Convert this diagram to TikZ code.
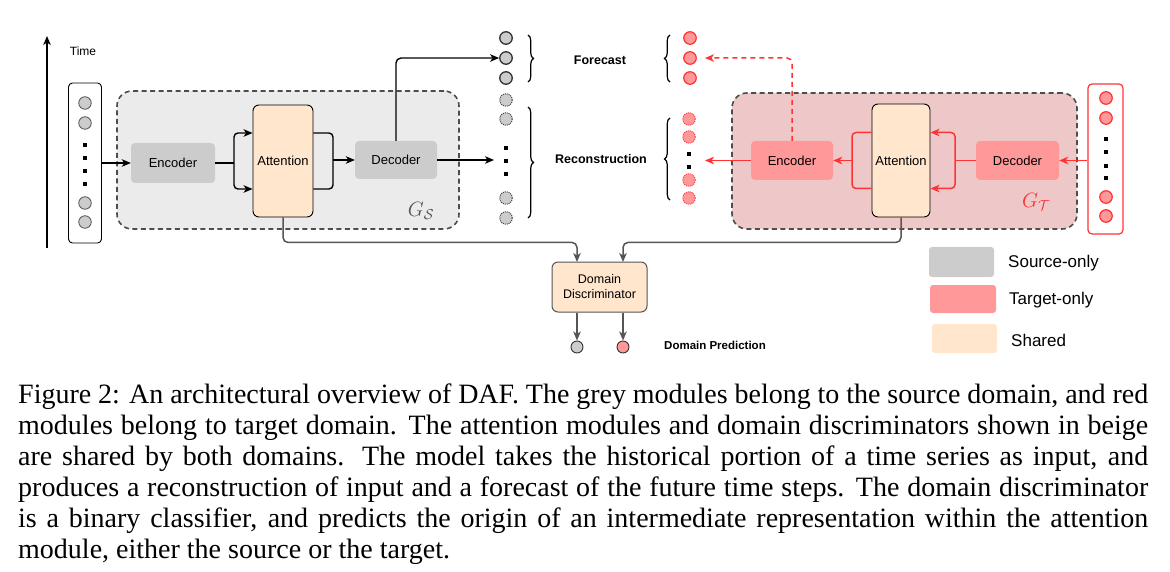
\documentclass[tikz,border=0pt]{standalone}
\usepackage{fontspec}
\setmainfont{Liberation Sans}
\newfontfamily\capfont{Liberation Serif}
\usetikzlibrary{arrows.meta,calc,decorations.pathreplacing}
\definecolor{grayfill}{HTML}{CCCCCC}
\definecolor{gsbg}{HTML}{EBEBEB}
\definecolor{dashcol}{HTML}{4D4D4D}
\definecolor{beige}{HTML}{FFE6CC}
\definecolor{redfill}{HTML}{FF9999}
\definecolor{redline}{HTML}{FF3333}
\definecolor{pinkbg}{HTML}{EEC8C8}
\definecolor{conn}{HTML}{555555}
\tikzset{
  modtext/.style={font=\fontsize{13}{15}\selectfont, text=black, inner sep=0pt},
  srcmod/.style={modtext, fill=grayfill, rounded corners=4pt, draw=none},
  tgtmod/.style={modtext, fill=redfill, rounded corners=4pt, draw=none},
  attmod/.style={modtext, fill=beige, draw=black, line width=0.9pt, rounded corners=6pt},
  gframe/.style={draw=dashcol, line width=1.6pt, dash pattern=on 5pt off 3.5pt, rounded corners=15pt, inner sep=0pt},
  colbox/.style={fill=white, rounded corners=4pt, inner sep=0pt},
  ccirc/.style={circle, inner sep=0pt, minimum size=12.5pt},
  cgray/.style={ccirc, fill=grayfill, draw=conn, line width=0.8pt},
  cgraysolid/.style={ccirc, fill=grayfill, draw=black!80, line width=1.3pt},
  cgraydot/.style={ccirc, fill=grayfill, draw=black!80, line width=0.9pt, dash pattern=on 1pt off 1pt},
  cred/.style={ccirc, fill=redfill, draw=redline, line width=1.2pt},
  creddot/.style={ccirc, fill=redfill, draw=redline, line width=0.9pt, dash pattern=on 1pt off 1pt},
  dotsq/.style={fill=black, inner sep=0pt, minimum size=3.2pt},
  blk/.style={draw=black, line width=1.4pt},
  blkarr/.style={blk, -{Stealth[length=9pt,width=7.5pt,inset=2.5pt]}},
  rd/.style={draw=redline, line width=1.5pt},
  rdarr/.style={rd, -{Stealth[length=9pt,width=7.5pt,inset=2.5pt]}},
  grarr/.style={draw=conn, line width=1.5pt, -{Stealth[length=9pt,width=7.5pt,inset=2.5pt]}},
  bold13/.style={font=\bfseries\fontsize{12.5}{14}\selectfont, inner sep=0pt},
  legtext/.style={font=\fontsize{17}{19}\selectfont, anchor=west, inner sep=0pt},
  legbox/.style={rounded corners=3pt, inner sep=0pt, draw=none},
  bracestyle/.style={draw=black, line width=1.2pt, decorate, decoration={brace, amplitude=5.5pt}},
}
\begin{document}
\begin{tikzpicture}[x=1pt,y=-1pt]
\useasboundingbox (0,0) rectangle (1170,572);

% ---------------- source side ----------------
\node[gframe, fill=gsbg, minimum width=342pt, minimum height=138pt] (GS) at (288,160) {};
\node[text=conn, inner sep=0pt, font=\fontsize{20}{22}\selectfont] (GSl) at (421,211) {$G_{\mathcal{S}}$};

% time axis
\coordinate (tb) at (47,248);
\coordinate (tt) at (47,36);
\draw[blkarr] (tb) -- (tt);
\node[inner sep=0pt, font=\fontsize{12}{14}\selectfont] (time) at (83,51) {Time};

% input column (source)
\node[colbox, draw=black, line width=0.9pt, minimum width=33pt, minimum height=160pt] (inS) at (85,163) {};
\node[cgray] (i1) at (85,103) {};
\node[cgray] (i2) at (85,123) {};
\node[dotsq] (id1) at (85,145) {};
\node[dotsq] (id2) at (85,158) {};
\node[dotsq] (id3) at (85,171) {};
\node[dotsq] (id4) at (85,184) {};
\node[cgray] (i3) at (85,203) {};
\node[cgray] (i4) at (85,222) {};

\node[srcmod, minimum width=84pt, minimum height=40pt] (encS) at (173,163) {Encoder};
\node[attmod, minimum width=60pt, minimum height=112pt] (attS) at (283,161) {Attention};
\node[srcmod, minimum width=82pt, minimum height=38pt] (decS) at (396,160) {Decoder};

% outputs (source)
\node[cgraysolid] (fS1) at (506,38) {};
\node[cgraysolid] (fS2) at (506,58) {};
\node[cgraysolid] (fS3) at (506,78) {};
\node[cgraydot] (rS1) at (506,100) {};
\node[cgraydot] (rS2) at (506,119) {};
\node[dotsq] (rd1) at (506,148) {};
\node[dotsq] (rd2) at (506,161) {};
\node[dotsq] (rd3) at (506,174) {};
\node[cgraydot] (rS3) at (506,198) {};
\node[cgraydot] (rS4) at (506,218) {};

\coordinate (bfS1) at (528,35);
\coordinate (bfS2) at (528,82);
\coordinate (brS1) at (528,107);
\coordinate (brS2) at (528,218);
\draw[bracestyle] (bfS1) -- (bfS2);
\draw[bracestyle] (brS1) -- (brS2);

\node[bold13] (fc) at (600,60) {Forecast};
\node[bold13] (rc) at (601,159) {Reconstruction};

% source connectors
\draw[blkarr] (inS.east |- encS) -- (encS.west);
\coordinate (bS) at (234,163);
\draw[blk] (encS.east) -- (bS);
\draw[blkarr, rounded corners=4pt] (bS) |- ($(attS.west)+(0,-28)$);
\draw[blkarr, rounded corners=4pt] (bS) |- ($(attS.west)+(0,28)$);
\coordinate (jS) at (333,160);
\draw[blk, rounded corners=4pt] ($(attS.east)+(0,-28)$) -| (jS) |- ($(attS.east)+(0,28)$);
\draw[blkarr] (jS) -- (decS.west);
\draw[blkarr, rounded corners=5pt] (decS.north) |- (fS2.west);
\coordinate (recS) at (494,160);
\draw[blkarr] (decS.east) -- (recS);

% ---------------- target side ----------------
\node[gframe, fill=pinkbg, minimum width=345pt, minimum height=136pt] (GT) at (904.5,161) {};
\node[text=redline, inner sep=0pt, font=\fontsize{20}{22}\selectfont] (GTl) at (1036,202) {$G_{\mathcal{T}}$};

\node[tgtmod, minimum width=82pt, minimum height=39pt] (encT) at (792,160.5) {Encoder};
\node[attmod, minimum width=58pt, minimum height=113pt] (attT) at (901,160.5) {Attention};
\node[tgtmod, minimum width=83pt, minimum height=39pt] (decT) at (1017.5,160.5) {Decoder};

\node[colbox, draw=redline, line width=1.2pt, minimum width=35pt, minimum height=150pt] (inT) at (1105.5,159) {};
\node[cred] (t1) at (1106,98) {};
\node[cred] (t2) at (1106,118) {};
\node[dotsq] (td1) at (1106,139) {};
\node[dotsq] (td2) at (1106,152) {};
\node[dotsq] (td3) at (1106,166) {};
\node[dotsq] (td4) at (1106,178) {};
\node[cred] (t3) at (1106,197) {};
\node[cred] (t4) at (1106,216) {};

\node[cred] (fT1) at (690,38) {};
\node[cred] (fT2) at (690,58) {};
\node[cred] (fT3) at (690,78) {};
\node[creddot] (rT1) at (689,119) {};
\node[creddot] (rT2) at (689,137) {};
\node[dotsq] (rtd1) at (689,154) {};
\node[dotsq] (rtd2) at (689,167) {};
\node[creddot] (rT3) at (689,180) {};
\node[creddot] (rT4) at (689,198) {};

\coordinate (bfT1) at (670,82);
\coordinate (bfT2) at (670,35);
\coordinate (brT1) at (670,200);
\coordinate (brT2) at (670,118);
\draw[bracestyle] (bfT1) -- (bfT2);
\draw[bracestyle] (brT1) -- (brT2);

% target connectors
\draw[rdarr] (inT.west |- decT) -- (decT.east);
\coordinate (bT) at (955,160.5);
\draw[rd] (decT.west) -- (bT);
\draw[rdarr, rounded corners=4pt] (bT) |- ($(attT.east)+(0,-28)$);
\draw[rdarr, rounded corners=4pt] (bT) |- ($(attT.east)+(0,28)$);
\coordinate (jT) at (852,160.5);
\draw[rd, rounded corners=4pt] ($(attT.west)+(0,-28)$) -| (jT) |- ($(attT.west)+(0,28)$);
\draw[rdarr] (jT) -- (encT.east);
\coordinate (recT) at (705,160.5);
\draw[rdarr] (encT.west) -- (recT);
\coordinate (fcT) at (705,58);
\draw[rdarr, dash pattern=on 5pt off 4pt, rounded corners=5pt] (encT.north) |- (fcT);

% ---------------- discriminator ----------------
\node[attmod, draw=conn, line width=1pt, minimum width=95pt, minimum height=50pt, align=center, rounded corners=6pt, font=\fontsize{12.5}{15}\selectfont] (disc) at (599.5,287) {Domain\\Discriminator};
\node[ccirc, minimum size=12pt, fill=grayfill, draw=black!80, line width=0.9pt] (pS) at (577,347) {};
\node[ccirc, minimum size=12pt, fill=redfill, draw=black!80, line width=0.9pt] (pT) at (623,347) {};
\node[bold13, font=\bfseries\fontsize{11.5}{13}\selectfont] (dp) at (715,345) {Domain Prediction};

\coordinate (dinS) at (577,262);
\coordinate (dinT) at (623,262);
\draw[grarr, rounded corners=5pt] (attS.south) -- ++(0,25) -| (dinS);
\draw[grarr, rounded corners=5pt] (attT.south) -- ++(0,25) -| (dinT);
\draw[grarr] (disc.south -| pS) -- (pS.north);
\draw[grarr] (disc.south -| pT) -- (pT.north);

% ---------------- legend ----------------
\node[legbox, fill=grayfill, minimum width=65pt, minimum height=30pt] (L1) at (961.5,262) {};
\node[legbox, fill=redfill, minimum width=66pt, minimum height=28pt] (L2) at (963,299) {};
\node[legbox, fill=beige, minimum width=65pt, minimum height=29pt] (L3) at (964.5,338.5) {};
\node[legtext] (L1t) at (1008,263) {Source-only};
\node[legtext] (L2t) at (1009,300) {Target-only};
\node[legtext] (L3t) at (1011,340) {Shared};

% ---------------- caption ----------------
\node[anchor=north west, inner sep=0pt, align=left, font=\capfont\fontsize{28}{31}\selectfont] (cap) at (18,384) {%
\makebox[1130pt][s]{Figure 2: An architectural overview of DAF. The grey modules belong to the source domain, and red}\\
\makebox[1130pt][s]{modules belong to target domain. The attention modules and domain discriminators shown in beige}\\
\makebox[1130pt][s]{are shared by both domains. The model takes the historical portion of a time series as input, and}\\
\makebox[1130pt][s]{produces a reconstruction of input and a forecast of the future time steps. The domain discriminator}\\
\makebox[1130pt][s]{is a binary classifier, and predicts the origin of an intermediate representation within the attention}\\
module, either the source or the target.};
\end{tikzpicture}
\end{document}
